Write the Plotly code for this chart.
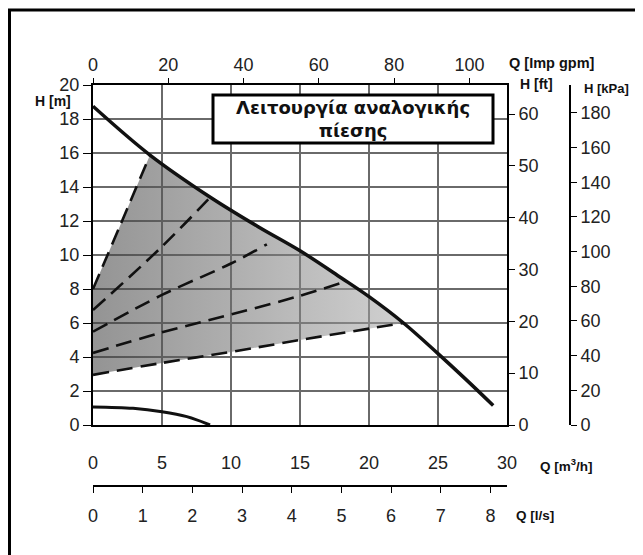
import plotly.graph_objects as go

# pump curve at maximum (Q in m3/h, H in m)
q_max = [0, 4.13, 8.5, 12, 15, 18, 20, 22.5, 25, 27, 29]
h_max = [18.75, 15.88, 13.4, 11.65, 10.25, 8.65, 7.55, 6.0, 4.2, 2.7, 1.15]

# proportional pressure curves (dashed)
q_pp1 = [0, 2, 4.13]
h_pp1 = [8.0, 11.8, 15.88]
q_pp2 = [0, 5, 8.5]
h_pp2 = [6.76, 10.5, 13.4]
q_pp3 = [0, 5, 10, 12.6]
h_pp3 = [5.49, 7.65, 9.5, 10.63]
q_pp4 = [0, 5, 10, 15, 17.9]
h_pp4 = [4.24, 5.45, 6.5, 7.6, 8.33]
q_pp5 = [0, 5, 10, 15, 22.5]
h_pp5 = [2.95, 3.65, 4.3, 5.0, 6.0]

# small curve at the bottom
q_min = [0, 2.9, 5, 6.8, 8.48]
h_min = [1.06, 0.98, 0.78, 0.49, 0.0]

title_text = "Λειτουργία αναλογικής<br>πίεσης"

# pixel -> paper helpers (page pixels; plot paper spans x 93..630, y 85..540)
def px(x):
    return (x - 93) / 537

def py(y):
    return (540 - y) / 455

XD = px(507)
YD0 = py(425)

# shaded operating field: y axis from pp5 to pp1, up pp1, along max curve, back along pp5
top = [(q, h) for q, h in zip(q_max, h_max) if q_pp1[-1] < q < q_pp5[-1]]
poly_q = [0] + q_pp1 + [q for q, _ in top] + q_pp5[::-1]
poly_h = [h_pp5[0]] + h_pp1 + [h for _, h in top] + h_pp5[::-1]

font_tick = dict(family="Liberation Sans, Arial", size=18, color="#222")
grid = "#6a6a6a"

fig = go.Figure()
fig.add_trace(go.Scatter(
    x=poly_q, y=poly_h, fill="toself", mode="none",
    fillgradient=dict(type="horizontal",
                      colorscale=[[0, "rgba(60,60,60,0.55)"], [1, "rgba(170,170,170,0.55)"]]),
    hoverinfo="skip", showlegend=False,
))
for q, h in [(q_pp1, h_pp1), (q_pp2, h_pp2), (q_pp3, h_pp3), (q_pp4, h_pp4), (q_pp5, h_pp5)]:
    fig.add_trace(go.Scatter(x=q, y=h, mode="lines", line_shape="spline",
                             line=dict(color="#111", width=2.6, dash="16px,8px"),
                             showlegend=False))
fig.add_trace(go.Scatter(x=q_max, y=h_max, mode="lines", line_shape="spline",
                         line=dict(color="#111", width=3.5), showlegend=False))
fig.add_trace(go.Scatter(x=q_min, y=h_min, mode="lines", line_shape="spline",
                         line=dict(color="#111", width=3), showlegend=False))
# dummy traces so the secondary axes get drawn
for xa, ya in [("x2", "y"), ("x3", "y"), ("x", "y2"), ("x", "y3")]:
    fig.add_trace(go.Scatter(x=[None], y=[None], xaxis=xa, yaxis=ya, showlegend=False))

axis_common = dict(showline=True, linecolor="black", linewidth=2, tickfont=font_tick,
                   tickcolor="black", zeroline=False)

# the page body adds 8px, so margins are 8px smaller than the reference positions
fig.update_layout(
    width=643, height=555,
    margin=dict(l=85, r=21, t=77, b=23),
    paper_bgcolor="white", plot_bgcolor="white",
    xaxis=dict(domain=[0, XD], range=[0, 30], dtick=5, showgrid=True, gridcolor=grid,
               gridwidth=2, ticks="", ticklabelstandoff=20, anchor="y", **axis_common),
    xaxis2=dict(overlaying="x", side="top", anchor="y", range=[0, 30 * 3.6661], dtick=20,
                ticks="outside", ticklen=5, showgrid=False, **axis_common),
    xaxis3=dict(overlaying="x", side="bottom", anchor="free", position=py(486),
                range=[0, 30 / 3.6], dtick=1, ticks="outside", ticklen=6,
                ticklabelstandoff=7, showgrid=False, **axis_common),
    yaxis=dict(domain=[YD0, 1], range=[0, 20], dtick=2, showgrid=True, gridcolor=grid,
               gridwidth=2, ticks="outside", ticklen=8, anchor="x", **axis_common),
    yaxis2=dict(overlaying="y", side="right", anchor="x", range=[0, 20 * 3.28084], dtick=10,
                ticks="outside", ticklen=6, showgrid=False, **axis_common),
    yaxis3=dict(overlaying="y", side="right", anchor="free", position=px(570),
                range=[0, 20 * 9.80665], dtick=20, ticks="outside", ticklen=6,
                showgrid=False, **axis_common),
    shapes=[
        dict(type="rect", xref="paper", yref="paper", x0=px(9.5), x1=px(660), y0=py(570), y1=py(10),
             line=dict(color="black", width=3), layer="above"),
        dict(type="rect", xref="paper", yref="paper", x0=px(213), x1=px(493), y0=py(143), y1=py(95),
             line=dict(color="black", width=3), fillcolor="white", layer="above"),
    ],
)

labels = [
    ("<b>H [m]</b>", 53, 101, 14),
    ("<b>Q [Imp gpm]</b>", 552, 63, 14.5),
    ("<b>H [ft]</b>", 536, 84, 14),
    ("<b>H [kPa]</b>", 606, 89, 13),
    ("<b>Q [m<sup>3</sup>/h]</b>", 566, 465, 13.5),
    ("<b>Q [l/s]</b>", 535, 515, 13.5),
]
for text, x, y, size in labels:
    fig.add_annotation(text=text, x=px(x), y=py(y), xref="paper", yref="paper",
                       showarrow=False, xanchor="center", yanchor="middle",
                       font=dict(family="Liberation Sans, Arial", size=size, color="#111"))
fig.add_annotation(text="<b>" + title_text + "</b>", x=px(353), y=py(119), xref="paper",
                   yref="paper", showarrow=False, xanchor="center", yanchor="middle",
                   font=dict(family="DejaVu Sans", size=18, color="#111"))

fig.write_html("out.html")
